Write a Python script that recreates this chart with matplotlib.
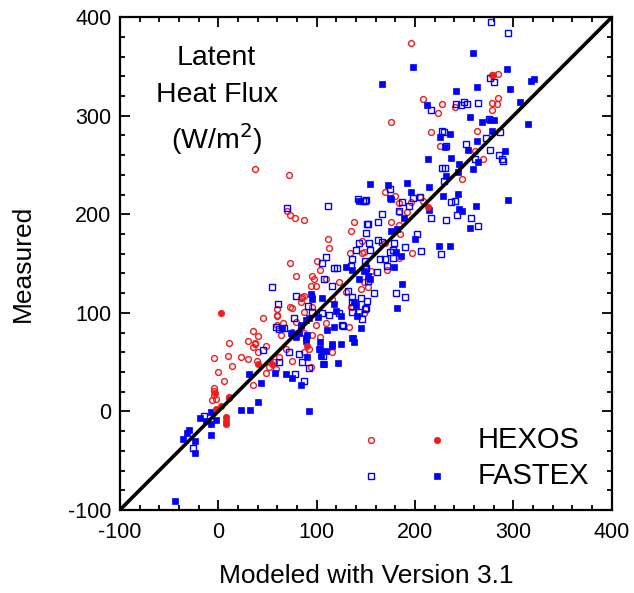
import matplotlib
matplotlib.use("Agg")
import matplotlib.pyplot as plt
from matplotlib.ticker import MultipleLocator

plt.rcParams['font.family'] = ['Liberation Sans', 'DejaVu Sans']
plt.rcParams['axes.unicode_minus'] = False

# HEXOS open circles
hexos_open = [
    (37,246),(72,240),(196,374),(176,294),(278,341),(284,342),(208,317),(227,312),(223,303),(241,309),
    (284,318),(278,313),(283,312),(278,306),(216,284),(263,285),(225,269),(261,264),(269,256),(248,236),
    (170,223),(180,219),(184,211),(205,218),(208,214),(196,212),(184,202),(192,202),(176,192),(184,189),
    (185,180),(146,173),(146,161),(170,171),(197,161),(184,156),(172,143),(155,142),(148,131),(152,126),
    (70,203),(73,199),(78,196),(87,194),(138,192),(112,175),(113,166),(135,183),(73,151),(79,137),
    (100,153),(103,143),(95,137),(97,134),(99,127),(110,134),(123,131),(94,127),(87,117),(84,115),
    (73,106),(75,105),(60,104),(60,97),(45,95),(66,90),(35,82),(40,77),(30,71),(37,69),
    (11,69),(49,66),(95,106),(87,101),(110,90),(84,86),(87,80),(103,76),(75,81),(130,121),
    (136,106),(148,100),(148,162),(145,124),(133,86),(116,114),(134,161),
    (-4,54),(10,56),(23,55),(30,53),(14,46),(0,40),(6,31),(-4,24),(-4,21),(-2,13),
    (11,15),(35,27),(39,51),(49,39),(59,43),(40,60),(35,65),(62,55),(57,50),(75,51),
    (92,63),(94,45),(116,60),(87,60),(60,98),(37,68),(-4,17),(-6,12),(52,45),(85,116),
    (60,88),(64,78),(69,63),(84,111),(95,117),(99,88),(95,78),(79,91),(75,78),(135,106),
]
# HEXOS filled circles
hexos_filled = [
    (279,341),(213,207),(3,100),(90,66),(-3,19),(-2,2),(3,5),(8,-6),(8,-10),(8,-13),
    (11,14),(40,48),(55,48),
]
# FASTEX open squares
fastex_open = [
    (277,395),(294,384),(276,338),(280,334),(216,306),(242,312),(247,311),(250,314),(253,312),(264,313),
    (227,285),(229,284),(252,271),(272,277),(275,297),(286,284),(231,269),(276,265),(285,260),(288,256),
    (289,254),(227,247),(230,247),(229,234),(261,256),
    (147,214),(149,214),(175,226),(198,217),(205,218),(237,212),(241,214),(187,212),(194,208),(166,200),
    (184,203),(243,199),(216,196),(231,194),(257,196),(264,188),(152,190),(162,192),(150,181),(162,174),
    (153,171),(154,164),(166,172),(190,167),(202,180),(179,171),(175,162),(178,164),(206,163),(226,160),
    (149,153),(164,155),(169,155),(178,156),(149,145),(161,141),(172,148),(158,120),(181,120),(190,116),
    (151,112),(149,104),(146,94),(145,115),(152,132),
    (70,206),(112,208),(142,216),(150,215),(55,126),(79,117),(61,109),(110,157),(105,151),(118,146),
    (121,146),(108,134),(116,127),(132,122),(136,116),(143,171),(140,164),(136,155),(150,146),(135,148),
    (91,107),(95,101),(105,100),(113,98),(123,100),(136,101),(150,105),(77,95),(59,86),(62,84),
    (67,85),(126,88),(151,190),
    (-14,-5),(-26,-37),(45,62),(62,50),(87,31),(78,38),(92,44),(85,50),(72,60),(82,58),
    (106,56),(127,87),(136,111),(143,101),
]
# FASTEX filled squares
fastex_filled = [
    (259,364),(198,349),(166,332),(293,347),(318,335),(321,337),(263,329),(297,327),(242,325),(212,311),
    (307,314),(256,299),(268,294),(280,296),(276,296),(315,292),(278,285),(236,281),(225,278),(263,274),
    (230,268),(254,265),(291,264),(213,256),(237,257),(245,251),(264,253),(259,246),(244,243),(231,239),
    (192,232),(173,230),(154,231),
    (214,228),(196,223),(176,216),(228,219),(244,221),(262,208),(294,215),(245,205),(248,203),(214,204),
    (189,196),(256,186),(176,183),(182,185),(200,175),(224,168),(236,168),(181,162),(186,158),(179,147),
    (187,129),(182,105),(145,85),(143,213),(154,134),
    (130,147),(148,142),(94,119),(105,115),(95,114),(118,109),(120,102),(125,97),(138,111),(140,108),
    (141,97),(111,83),(118,86),(89,93),(84,88),(101,96),(74,80),(82,80),(79,76),(90,78),
    (89,71),(103,70),(116,68),(125,68),(136,75),(138,70),
    (31,38),(43,29),(40,10),(23,1),(32,1),(-7,-1),(92,0),(-19,-7),(-12,-10),(-2,-9),
    (-7,-13),(-30,-19),(-32,-22),(-36,-28),(-24,-30),(-7,-24),(-24,-42),(-44,-91),(58,39),(69,38),
    (75,34),(84,27),(106,48),(122,49),(102,63),(110,61),(90,55),(116,66),
    (89,75),(103,63),(104,56),(65,85),(92,95),(137,75),(107,48),(175,217),(136,144),(152,137),(143,134),
]

legend_labels = ["HEXOS", "FASTEX"]
title_lines = ["Latent", "Heat Flux", "(W/m$^{2}$)"]
xlabel = "Modeled with Version 3.1"
ylabel = "Measured"

RED = "#ee1c1c"
BLUE = "#0000ff"

fig = plt.figure(figsize=(6.34, 5.93), dpi=100)
ax = fig.add_axes([0.189, 0.140, 0.776, 0.831])

def xy(pts):
    return [p[0] for p in pts], [p[1] for p in pts]

open_c = dict(ms=4.2, mfc='none', mec=RED, mew=1.0, ls='none')
fill_c = dict(ms=4.6, mfc=RED, mec=RED, mew=0.5, ls='none')
open_s = dict(ms=4.2, mfc='none', mec=BLUE, mew=1.0, ls='none')
fill_s = dict(ms=4.6, mfc=BLUE, mec=BLUE, mew=0.5, ls='none')

x, y = xy(hexos_open)
ax.plot(x, y, 'o', zorder=3, **open_c)
x, y = xy(fastex_open)
ax.plot(x, y, 's', zorder=3, **open_s)
x, y = xy(fastex_filled)
ax.plot(x, y, 's', zorder=4, **fill_s)
x, y = xy(hexos_filled)
ax.plot(x, y, 'o', zorder=4, **fill_c)

ax.plot([-100, 400], [-100, 400], color='black', lw=2.6, zorder=5)

ax.set_xlim(-100, 400)
ax.set_ylim(-100, 400)
ax.xaxis.set_major_locator(MultipleLocator(100))
ax.yaxis.set_major_locator(MultipleLocator(100))
ax.xaxis.set_minor_locator(MultipleLocator(20))
ax.yaxis.set_minor_locator(MultipleLocator(20))
ax.tick_params(which='both', direction='in', top=True, right=True, width=1.3)
ax.tick_params(which='major', length=7, labelsize=15.5)
ax.tick_params(axis='x', which='major', pad=9)
ax.tick_params(axis='y', which='major', pad=6)
ax.tick_params(which='minor', length=3.5)
for s in ax.spines.values():
    s.set_linewidth(1.6)

ax.set_xlabel(xlabel, fontsize=19, labelpad=15)
ax.set_ylabel(ylabel, fontsize=19, labelpad=24)

title_y = [0.917, 0.842, 0.752]
for t, ty in zip(title_lines, title_y):
    ax.text(0.197, ty, t, transform=ax.transAxes,
            ha='center', va='center', fontsize=20.5)

# manual legend: open and filled marker columns, then label
leg_y = [0.142, 0.069]
ax.plot([0.510], [leg_y[0]], 'o', transform=ax.transAxes, **open_c)
ax.plot([0.644], [leg_y[0]], 'o', transform=ax.transAxes, **fill_c)
ax.plot([0.510], [leg_y[1]], 's', transform=ax.transAxes, **open_s)
ax.plot([0.644], [leg_y[1]], 's', transform=ax.transAxes, **fill_s)
for yy, lab in zip(leg_y, legend_labels):
    ax.text(0.728, yy, lab, transform=ax.transAxes, ha='left', va='center', fontsize=21)

fig.savefig("out.png", dpi=100)
